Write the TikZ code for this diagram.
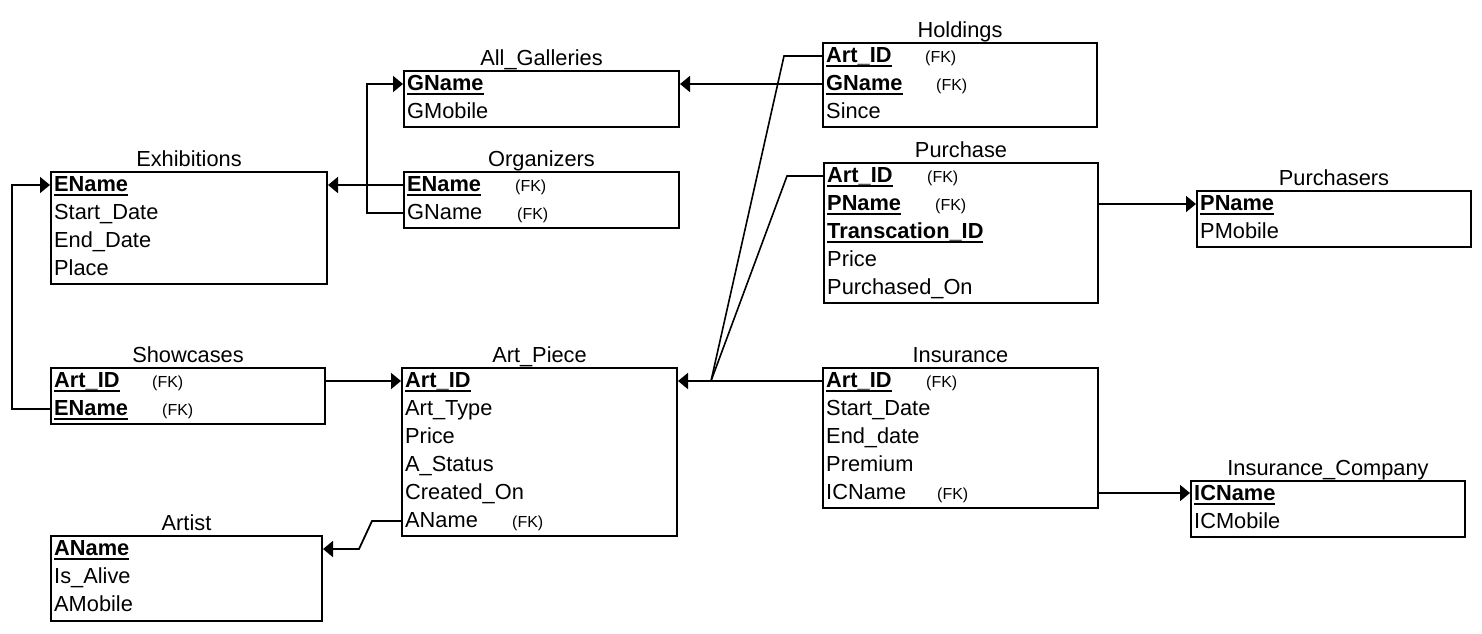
\documentclass[tikz,border=0pt]{standalone}
\usepackage{fontspec}
\setmainfont{Liberation Sans}
\usetikzlibrary{arrows.meta}
\newcommand{\tblfont}{\fontsize{21.8pt}{26pt}\selectfont}
\newcommand{\fkfont}{\fontsize{16pt}{19pt}\selectfont}
\newcommand{\pk}[1]{\setbox0=\hbox{\textbf{#1}}\rlap{\rule[-4.5pt]{\wd0}{2pt}}\box0}
\tikzset{
  tbl/.style={draw, line width=2pt, anchor=north west, inner sep=0pt},
  ttl/.style={anchor=base, inner sep=0pt},
  fld/.style={anchor=base west, inner sep=0pt, text height=16pt, text depth=4pt},
  fkn/.style={anchor=base west, inner sep=0pt, font=\fkfont},
  rel/.style={line width=1.8pt, -{Triangle[length=10pt,width=16pt]}},
  lnk/.style={line width=1.6pt},
}
\begin{document}
\begin{tikzpicture}[x=1pt,y=-1pt,font=\tblfont]
            \useasboundingbox (0,0) rectangle (1482,633);

            %Tables
            \node[tbl, minimum width=275pt, minimum height=56pt] (gal) at (403,70) {};
            \node[tbl, minimum width=275pt, minimum height=56pt] (org) at (403,171) {};
            \node[tbl, minimum width=276pt, minimum height=112pt] (exh) at (50,171) {};
            \node[tbl, minimum width=274pt, minimum height=56pt] (sho) at (50,367) {};
            \node[tbl, minimum width=271pt, minimum height=85pt] (ast) at (50,535) {};
            \node[tbl, minimum width=275pt, minimum height=168pt] (art) at (401,367) {};
            \node[tbl, minimum width=274pt, minimum height=84pt] (hold) at (822,42) {};
            \node[tbl, minimum width=274pt, minimum height=140pt] (pur) at (823,162) {};
            \node[tbl, minimum width=274pt, minimum height=56pt] (prs) at (1196,190) {};
            \node[tbl, minimum width=275pt, minimum height=140pt] (ins) at (822,367) {};
            \node[tbl, minimum width=274pt, minimum height=56pt] (ico) at (1190,480) {};

            %Titles
            \node[ttl] (gal-t) at ([yshift=5pt]gal.north) {All\_Galleries};
            \node[ttl] (org-t) at ([yshift=5pt]org.north) {Organizers};
            \node[ttl] (exh-t) at ([yshift=5pt]exh.north) {Exhibitions};
            \node[ttl] (sho-t) at ([yshift=5pt]sho.north) {Showcases};
            \node[ttl] (ast-t) at ([yshift=5pt]ast.north) {Artist};
            \node[ttl] (art-t) at ([yshift=5pt]art.north) {Art\_Piece};
            \node[ttl] (hold-t) at ([yshift=5pt]hold.north) {Holdings};
            \node[ttl] (pur-t) at ([yshift=5pt]pur.north) {Purchase};
            \node[ttl] (prs-t) at ([yshift=5pt]prs.north) {Purchasers};
            \node[ttl] (ins-t) at ([yshift=5pt]ins.north) {Insurance};
            \node[ttl] (ico-t) at ([yshift=5pt]ico.north) {Insurance\_Company};

            %Fields
            \node[fld] (gal-1) at (407,90) {\pk{GName}};
            \node[fld] (gal-2) at (407,118) {GMobile};

            \node[fld] (org-1) at (407,191) {\pk{EName}};
            \node[fkn] (org-1fk) at (515,191) {(FK)};
            \node[fld] (org-2) at (407,219) {GName};
            \node[fkn] (org-2fk) at (517,219) {(FK)};

            \node[fld] (exh-1) at (54,191) {\pk{EName}};
            \node[fld] (exh-2) at (54,219) {Start\_Date};
            \node[fld] (exh-3) at (54,247) {End\_Date};
            \node[fld] (exh-4) at (54,275) {Place};

            \node[fld] (sho-1) at (54,387) {\pk{Art\_ID}};
            \node[fkn] (sho-1fk) at (152,387) {(FK)};
            \node[fld] (sho-2) at (54,415) {\pk{EName}};
            \node[fkn] (sho-2fk) at (162,415) {(FK)};

            \node[fld] (ast-1) at (54,555) {\pk{AName}};
            \node[fld] (ast-2) at (54,583) {Is\_Alive};
            \node[fld] (ast-3) at (54,611) {AMobile};

            \node[fld] (art-1) at (405,387) {\pk{Art\_ID}};
            \node[fld] (art-2) at (405,415) {Art\_Type};
            \node[fld] (art-3) at (405,443) {Price};
            \node[fld] (art-4) at (405,471) {A\_Status};
            \node[fld] (art-5) at (405,499) {Created\_On};
            \node[fld] (art-6) at (405,527) {AName};
            \node[fkn] (art-6fk) at (512,527) {(FK)};

            \node[fld] (hold-1) at (826,62) {\pk{Art\_ID}};
            \node[fkn] (hold-1fk) at (925,62) {(FK)};
            \node[fld] (hold-2) at (826,90) {\pk{GName}};
            \node[fkn] (hold-2fk) at (936,90) {(FK)};
            \node[fld] (hold-3) at (826,118) {Since};

            \node[fld] (pur-1) at (827,182) {\pk{Art\_ID}};
            \node[fkn] (pur-1fk) at (927,182) {(FK)};
            \node[fld] (pur-2) at (827,210) {\pk{PName}};
            \node[fkn] (pur-2fk) at (935,210) {(FK)};
            \node[fld] (pur-3) at (827,238) {\pk{Transcation\_ID}};
            \node[fld] (pur-4) at (827,266) {Price};
            \node[fld] (pur-5) at (827,294) {Purchased\_On};

            \node[fld] (prs-1) at (1200,210) {\pk{PName}};
            \node[fld] (prs-2) at (1200,238) {PMobile};

            \node[fld] (ins-1) at (826,387) {\pk{Art\_ID}};
            \node[fkn] (ins-1fk) at (926,387) {(FK)};
            \node[fld] (ins-2) at (826,415) {Start\_Date};
            \node[fld] (ins-3) at (826,443) {End\_date};
            \node[fld] (ins-4) at (826,471) {Premium};
            \node[fld] (ins-5) at (826,499) {ICName};
            \node[fkn] (ins-5fk) at (937,499) {(FK)};

            \node[fld] (ico-1) at (1194,500) {\pk{ICName}};
            \node[fld] (ico-2) at (1194,528) {ICMobile};

            \coordinate (jn) at (711,381);

            %Lines
            \draw[rel] (org.west |- org-1) -- (exh.east |- org-1);
            \draw[rel] (org.west |- org-2) -- ++(-36,0) |- (gal.west |- gal-1);
            \draw[rel] (hold.west |- hold-2) -- (gal.east |- hold-2);
            \draw[rel] (sho.west |- sho-2) -- ++(-38,0) |- (exh.west |- exh-1);
            \draw[rel] (sho.east |- sho-1) -- (art.west |- sho-1);
            \draw[rel] (art.west |- art-6) -- ++(-29,0) -- ([xshift=36pt]ast.east |- ast-1) -- (ast.east |- ast-1);
            \draw[rel] (ins.west |- ins-1) -- (art.east |- ins-1);
            \draw[lnk] (hold.west |- hold-1) -- ++(-38,0) -- (jn);
            \draw[lnk] (pur.west |- pur-1) -- ++(-36,0) -- (jn);
            \draw[rel] (pur.east |- prs-1) -- (prs.west |- prs-1);
            \draw[rel] (ins.east |- ins-5) -- (ico.west |- ins-5);
        \end{tikzpicture}
\end{document}
